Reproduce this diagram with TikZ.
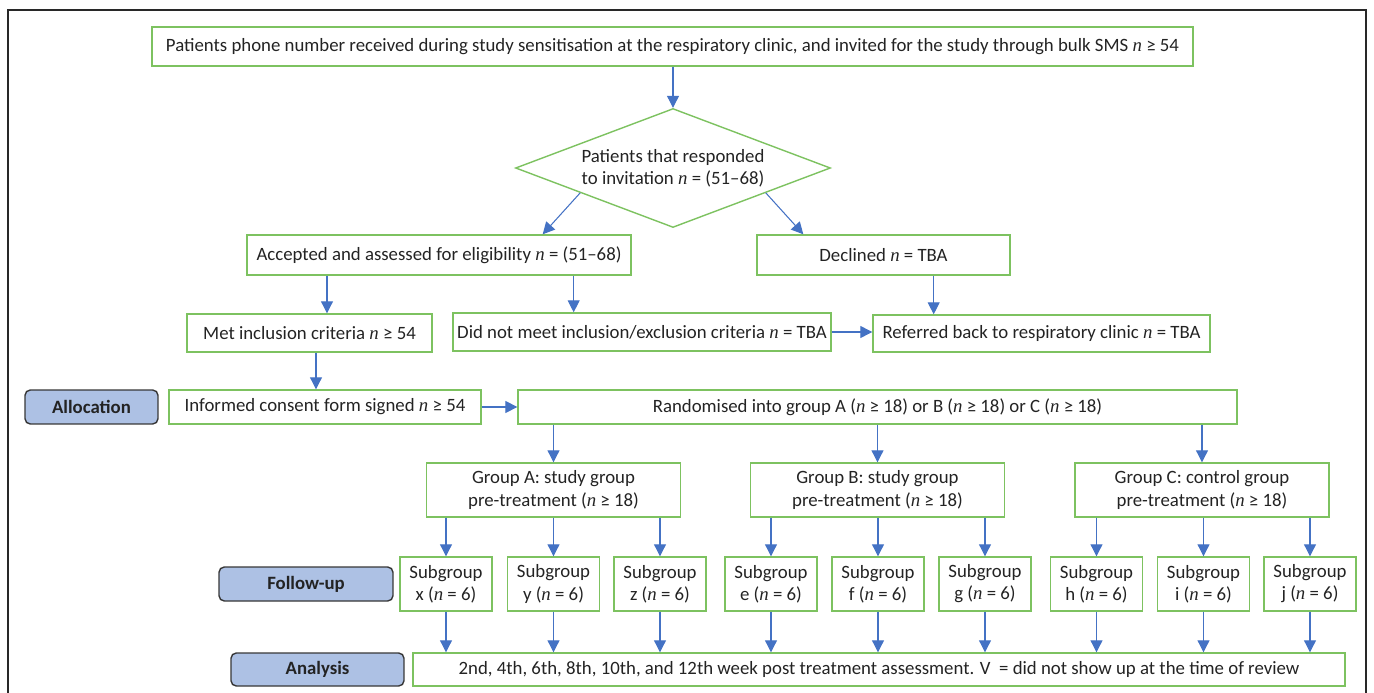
\documentclass[tikz,border=0pt]{standalone}
\usepackage{fontspec}
\setmainfont{Carlito}
\newfontfamily\nitfont{Liberation Serif}
\usetikzlibrary{arrows.meta, shapes.geometric}
\definecolor{boxgreen}{RGB}{125,194,96}
\definecolor{arrowblue}{RGB}{68,114,196}
\definecolor{labelfill}{RGB}{173,193,228}
\definecolor{labeldraw}{RGB}{55,55,55}
\definecolor{framegray}{RGB}{40,40,40}
\definecolor{txtdark}{RGB}{35,35,35}
\newcommand{\nv}{{\nitfont\itshape n}}

\begin{document}
\begin{tikzpicture}[
  x=0.02cm, y=-0.02cm,
  >={Triangle[length=2.4mm, width=2.4mm]},
  every node/.style={font=\fontsize{10.7}{12.6}\selectfont, text=txtdark},
  gbox/.style={draw=boxgreen, line width=0.8pt, rectangle, inner sep=0pt, align=center},
  lbox/.style={draw=labeldraw, fill=labelfill, rounded corners=3pt, line width=0.8pt, inner sep=0pt, font=\fontsize{10.7}{12.6}\selectfont\bfseries},
  grpbox/.style={gbox, minimum width=5.08cm, minimum height=1.08cm},
  subbox/.style={gbox, minimum width=1.84cm, minimum height=1.08cm},
  arr/.style={->, draw=arrowblue, line width=0.6pt},
]
\useasboundingbox (0,0) rectangle (1374,693);

% outer frame, open at the bottom
\draw[framegray, line width=0.7pt] (8,700) -- (8,10) -- (1366,10) -- (1366,700);

% --- recruitment ---
\node[gbox, minimum width=20.82cm, minimum height=0.78cm] (sms) at (672.5,46.5)
  {Patients phone number received during study sensitisation at the respiratory clinic, and invited for the study through bulk SMS \nv{} ≥ 54};
\node[gbox, diamond, shape aspect=2.6, minimum width=6.3cm, minimum height=2.38cm] (resp) at (673,168)
  {Patients that responded\\to invitation \nv{} = (51–68)};
\node[gbox, minimum width=7.68cm, minimum height=0.8cm] (acc) at (439,255)
  {Accepted and assessed for eligibility \nv{} = (51–68)};
\node[gbox, minimum width=5.06cm, minimum height=0.8cm] (decl) at (883.5,255)
  {Declined \nv{} = TBA};
\node[gbox, minimum width=4.9cm, minimum height=0.76cm] (met) at (309.5,333)
  {Met inclusion criteria \nv{} ≥ 54};
\node[gbox, minimum width=7.56cm, minimum height=0.76cm] (dnm) at (642,332)
  {Did not meet inclusion/exclusion criteria \nv{} = TBA};
\node[gbox, minimum width=6.74cm, minimum height=0.74cm] (ref) at (1041.5,333.5)
  {Referred back to respiratory clinic \nv{} = TBA};

% --- allocation ---
\node[lbox, minimum width=2.66cm, minimum height=0.68cm] (alloc) at (91.5,407) {Allocation};
\node[gbox, minimum width=6.24cm, minimum height=0.68cm] (inf) at (325,407)
  {Informed consent form signed \nv{} ≥ 54};
\node[gbox, minimum width=14.38cm, minimum height=0.68cm] (rand) at (877.5,407)
  {Randomised into group A (\nv{} ≥ 18) or B (\nv{} ≥ 18) or C (\nv{} ≥ 18)};
\node[grpbox] (gA) at (553.5,490) {Group A: study group\\pre-treatment (\nv{} ≥ 18)};
\node[grpbox] (gB) at (877.5,490) {Group B: study group\\pre-treatment (\nv{} ≥ 18)};
\node[grpbox] (gC) at (1202,490) {Group C: control group\\pre-treatment (\nv{} ≥ 18)};

% --- follow-up ---
\node[lbox, minimum width=3.48cm, minimum height=0.68cm] (follow) at (306,584) {Follow-up};
\node[subbox] (sx) at (446,584) {Subgroup\\x (\nv{} = 6)};
\node[subbox] (sy) at (553.5,584) {Subgroup\\y (\nv{} = 6)};
\node[subbox] (sz) at (660,584) {Subgroup\\z (\nv{} = 6)};
\node[subbox] (se) at (771,584) {Subgroup\\e (\nv{} = 6)};
\node[subbox] (sf) at (878,584) {Subgroup\\f (\nv{} = 6)};
\node[subbox] (sg) at (985,584) {Subgroup\\g (\nv{} = 6)};
\node[subbox] (sh) at (1096.5,584) {Subgroup\\h (\nv{} = 6)};
\node[subbox] (si) at (1203.5,584) {Subgroup\\i (\nv{} = 6)};
\node[subbox] (sj) at (1310,584) {Subgroup\\j (\nv{} = 6)};

% --- analysis ---
\node[lbox, minimum width=3.46cm, minimum height=0.66cm] (anlab) at (317.5,669.5) {Analysis};
\node[gbox, minimum width=18.64cm, minimum height=0.66cm] (ana) at (879,669.5)
  {2nd, 4th, 6th, 8th, 10th, and 12th week post treatment assessment. V~~= did not show up at the time of review};

% connectors
\draw[arr] (resp.north |- sms.south) -- (resp.north);
\draw[arr] (resp.195) -- ([xshift=-1.78cm]acc.north east);
\draw[arr] (resp.345) -- ([xshift=0.94cm]decl.north west);
\draw[arr] ([xshift=0.35cm]met.north |- acc.south) -- ([xshift=0.35cm]met.north);
\draw[arr] ([xshift=-1.16cm]acc.south east) -- ([xshift=-1.16cm]acc.south east |- dnm.north);
\draw[arr] ([xshift=-1.54cm]decl.south east) -- ([xshift=-1.54cm]decl.south east |- ref.north);
\draw[arr] (dnm.east) -- (ref.west |- dnm.east);
\draw[arr] ([xshift=0.13cm]met.south) -- ([xshift=0.13cm]met.south |- inf.north);
\draw[arr] (inf.east) -- (rand.west);
\draw[arr] (gA.north |- rand.south) -- (gA.north);
\draw[arr] (gB.north |- rand.south) -- (gB.north);
\draw[arr] (gC.north |- rand.south) -- (gC.north);
\draw[arr] (sx.north |- gA.south) -- (sx.north);
\draw[arr] (sy.north |- gA.south) -- (sy.north);
\draw[arr] (sz.north |- gA.south) -- (sz.north);
\draw[arr] (se.north |- gB.south) -- (se.north);
\draw[arr] (sf.north |- gB.south) -- (sf.north);
\draw[arr] (sg.north |- gB.south) -- (sg.north);
\draw[arr] (sh.north |- gC.south) -- (sh.north);
\draw[arr] (si.north |- gC.south) -- (si.north);
\draw[arr] (sj.north |- gC.south) -- (sj.north);
\draw[arr] (sx.south) -- (sx.south |- ana.north);
\draw[arr] (sy.south) -- (sy.south |- ana.north);
\draw[arr] (sz.south) -- (sz.south |- ana.north);
\draw[arr] (se.south) -- (se.south |- ana.north);
\draw[arr] (sf.south) -- (sf.south |- ana.north);
\draw[arr] (sg.south) -- (sg.south |- ana.north);
\draw[arr] (sh.south) -- (sh.south |- ana.north);
\draw[arr] (si.south) -- (si.south |- ana.north);
\draw[arr] (sj.south) -- (sj.south |- ana.north);
\end{tikzpicture}
\end{document}
